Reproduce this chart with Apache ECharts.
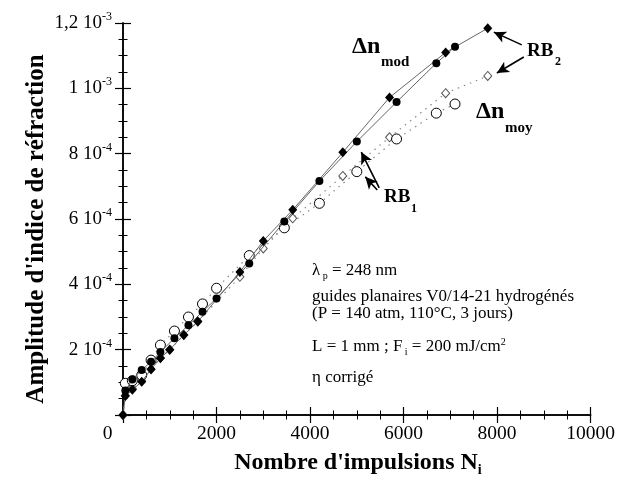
<!DOCTYPE html>
<html>
<head>
<meta charset="utf-8">
<script src="https://cdn.jsdelivr.net/npm/echarts@6/dist/echarts.min.js"></script>
<style>html,body{margin:0;padding:0;background:#fff;}#c{width:618px;height:484px;}</style>
</head>
<body>
<div id="c"></div>
<script>
// ---- data (y values in units of 1e-4) ----
const rb1N   = [50, 200, 400, 600, 800, 1100, 1400, 1700, 2000, 2700, 3450, 4200, 5000, 5850, 6700, 7100];
const rb1Mod = [0.75, 1.09, 1.38, 1.63, 1.93, 2.35, 2.75, 3.16, 3.57, 4.64, 5.92, 7.16, 8.37, 9.58, 10.77, 11.27];
const rb1Moy = [0.97, 1.05, 1.22, 1.68, 2.14, 2.57, 3.00, 3.40, 3.88, 4.88, 5.73, 6.48, 7.45, 8.45, 9.24, 9.52];
const rb2N   = [0, 50, 200, 400, 600, 800, 1000, 1300, 1600, 2500, 3000, 3630, 4700, 5700, 6900, 7800];
const rb2Mod = [0, 0.58, 0.77, 1.02, 1.40, 1.74, 2.00, 2.45, 2.86, 4.38, 5.33, 6.28, 8.04, 9.72, 11.10, 11.84];
const rb2Moy = [0, 0.60, 0.80, 1.05, 1.40, 1.75, 2.00, 2.45, 2.86, 4.23, 5.10, 6.02, 7.32, 8.50, 9.85, 10.38];
const xTickValues = [0, 2000, 4000, 6000, 8000, 10000];
const xTickLabels = ['0', '2000', '4000', '6000', '8000', '10000'];
const yTickValues = [2, 4, 6, 8, 10, 12];
const yTickMant   = ['2 10', '4 10', '6 10', '8 10', '1 10', '1,2 10'];
const yTickExp    = ['-4', '-4', '-4', '-4', '-3', '-3'];

const F = 'Liberation Serif';
const zip = (a, b) => a.map((v, i) => [v, b[i]]);
const chart = echarts.init(document.getElementById('c'), null, {renderer: 'canvas'});

const majorAxis = {
  axisLine: {show: true, lineStyle: {color: '#000', width: 1.5}},
  axisTick: {show: true, inside: true, length: 8, lineStyle: {color: '#000', width: 1.2}},
  splitLine: {show: false}
};
const minorAxis = {
  axisLine: {show: false},
  axisTick: {show: true, inside: true, length: 4.5, lineStyle: {color: '#000', width: 1}},
  axisLabel: {show: false},
  splitLine: {show: false}
};

const option = {
  animation: false,
  backgroundColor: '#fff',
  grid: {left: 123, right: 26, top: 23, bottom: 69},
  xAxis: [
    Object.assign({
      type: 'value', min: 0, max: 10000, interval: 2000, position: 'bottom',
      axisLabel: {
        margin: 9, color: '#000', fontFamily: F, fontSize: 19.5,
        formatter: v => {
          const i = xTickValues.indexOf(v);
          const t = i >= 0 ? xTickLabels[i] : '';
          return v === 0 ? '{z|' + t + '}' : t;
        },
        rich: {z: {fontFamily: F, fontSize: 19.5, color: '#000', padding: [0, 31, 0, 0]}}
      }
    }, majorAxis),
    Object.assign({type: 'value', min: 0, max: 10000, interval: 2000, position: 'top', axisLabel: {show: false}}, majorAxis),
    Object.assign({type: 'value', min: 0, max: 10000, interval: 500, position: 'bottom'}, minorAxis),
    Object.assign({type: 'value', min: 0, max: 10000, interval: 500, position: 'top'}, minorAxis)
  ],
  yAxis: [
    Object.assign({
      type: 'value', min: 0, max: 12, interval: 2, position: 'left',
      axisLabel: {
        margin: 11, color: '#000',
        formatter: v => {
          const i = yTickValues.indexOf(Math.round(v * 10) / 10);
          if (i < 0) return '';
          return '{b|' + yTickMant[i] + '}{s|' + yTickExp[i] + '}';
        },
        rich: {
          b: {fontFamily: F, fontSize: 19, color: '#000', lineHeight: 24},
          s: {fontFamily: F, fontSize: 12, color: '#000', lineHeight: 12, verticalAlign: 'top'}
        }
      }
    }, majorAxis),
    Object.assign({type: 'value', min: 0, max: 12, interval: 2, position: 'right', axisLabel: {show: false}}, majorAxis),
    Object.assign({type: 'value', min: 0, max: 12, interval: 0.5, position: 'left'}, minorAxis),
    Object.assign({type: 'value', min: 0, max: 12, interval: 0.5, position: 'right'}, minorAxis)
  ],
  series: [
    {
      type: 'line', name: 'RB2 mod', data: zip(rb2N, rb2Mod),
      symbol: 'diamond', symbolSize: [9, 10], z: 4,
      itemStyle: {color: '#000'},
      lineStyle: {color: '#666', width: 1},
      markLine: {
        silent: true, symbol: ['none', 'arrow'], symbolSize: [9, 12],
        label: {show: false},
        lineStyle: {color: '#000', width: 1.6, type: 'solid'},
        data: [
          [{coord: [8528, 11.33]}, {coord: [7931, 11.72]}],
          [{coord: [8571, 10.96]}, {coord: [7995, 10.47]}],
          [{coord: [5479, 6.95]}, {coord: [5095, 8.05]}],
          [{coord: [5437, 6.89]}, {coord: [5181, 7.29]}]
        ]
      }
    },
    {
      type: 'line', name: 'RB1 mod', data: zip(rb1N, rb1Mod),
      symbol: 'circle', symbolSize: 8, z: 4,
      itemStyle: {color: '#000'},
      lineStyle: {color: '#666', width: 1}
    },
    {
      type: 'line', name: 'RB2 moy', data: zip(rb2N, rb2Moy),
      symbol: 'diamond', symbolSize: [8, 9], z: 3,
      itemStyle: {color: '#fff', borderColor: '#555', borderWidth: 1},
      lineStyle: {color: '#888', width: 1.2, type: [1.5, 5]}
    },
    {
      type: 'line', name: 'RB1 moy', data: zip(rb1N, rb1Moy),
      symbol: 'circle', symbolSize: 10, z: 3,
      itemStyle: {color: '#fff', borderColor: '#000', borderWidth: 1},
      lineStyle: {color: '#888', width: 1.2, type: [1.5, 5]}
    }
  ],
  graphic: [
    // axis titles
    {type: 'text', x: 37, y: 229, rotation: Math.PI / 2, style: {
      text: "Amplitude d'indice de réfraction", fontFamily: F, fontWeight: 'bold', fontSize: 25,
      fill: '#000', align: 'center', verticalAlign: 'middle'}},
    {type: 'text', x: 358, y: 463, style: {
      text: "{m|Nombre d'impulsions N}{s|i}", align: 'center', verticalAlign: 'middle',
      rich: {
        m: {fontFamily: F, fontWeight: 'bold', fontSize: 24, fill: '#000', lineHeight: 28},
        s: {fontFamily: F, fontWeight: 'bold', fontSize: 14, fill: '#000', lineHeight: 8, verticalAlign: 'bottom'}
      }}},
    // annotations
    {type: 'text', x: 352, y: 47, style: {text: 'Δn', fontFamily: F, fontWeight: 'bold', fontSize: 24, fill: '#000', verticalAlign: 'middle'}},
    {type: 'text', x: 381, y: 62, style: {text: 'mod', fontFamily: F, fontWeight: 'bold', fontSize: 15, fill: '#000', verticalAlign: 'middle'}},
    {type: 'text', x: 476, y: 112, style: {text: 'Δn', fontFamily: F, fontWeight: 'bold', fontSize: 24, fill: '#000', verticalAlign: 'middle'}},
    {type: 'text', x: 505, y: 128, style: {text: 'moy', fontFamily: F, fontWeight: 'bold', fontSize: 15, fill: '#000', verticalAlign: 'middle'}},
    {type: 'text', x: 527, y: 51, style: {text: 'RB', fontFamily: F, fontWeight: 'bold', fontSize: 19, fill: '#000', verticalAlign: 'middle'}},
    {type: 'text', x: 555, y: 62, style: {text: '2', fontFamily: F, fontWeight: 'bold', fontSize: 12, fill: '#000', verticalAlign: 'middle'}},
    {type: 'text', x: 384, y: 197, style: {text: 'RB', fontFamily: F, fontWeight: 'bold', fontSize: 19, fill: '#000', verticalAlign: 'middle'}},
    {type: 'text', x: 411, y: 209, style: {text: '1', fontFamily: F, fontWeight: 'bold', fontSize: 12, fill: '#000', verticalAlign: 'middle'}},
    // info block
    {type: 'text', x: 312, y: 271, style: {
      text: '{m|λ}{s| p}{m| = 248 nm}', verticalAlign: 'middle',
      rich: {
        m: {fontFamily: F, fontSize: 17, fill: '#000', lineHeight: 20},
        s: {fontFamily: F, fontSize: 10, fill: '#000', lineHeight: 8, verticalAlign: 'bottom'}
      }}},
    {type: 'text', x: 312, y: 297, style: {text: 'guides planaires V0/14-21 hydrogénés', fontFamily: F, fontSize: 17, fill: '#000', verticalAlign: 'middle'}},
    {type: 'text', x: 312, y: 314, style: {text: '(P = 140 atm, 110°C, 3 jours)', fontFamily: F, fontSize: 17, fill: '#000', verticalAlign: 'middle'}},
    {type: 'text', x: 312, y: 347, style: {
      text: '{m|L = 1 mm ; F}{s| i}{m| = 200 mJ/cm}{u|2}', verticalAlign: 'middle',
      rich: {
        m: {fontFamily: F, fontSize: 17, fill: '#000', lineHeight: 20},
        s: {fontFamily: F, fontSize: 10, fill: '#000', lineHeight: 8, verticalAlign: 'bottom'},
        u: {fontFamily: F, fontSize: 10, fill: '#000', lineHeight: 8, verticalAlign: 'top'}
      }}},
    {type: 'text', x: 312, y: 378, style: {text: 'η corrigé', fontFamily: F, fontSize: 17, fill: '#000', verticalAlign: 'middle'}}
  ]
};
chart.setOption(option);
</script>
</body>
</html>
